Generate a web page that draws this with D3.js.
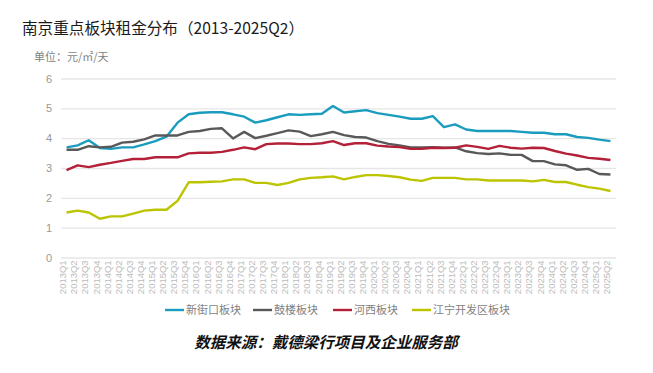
<!DOCTYPE html>
<html>
<head>
<meta charset="utf-8">
<script src="https://cdn.jsdelivr.net/npm/d3@7"></script>
<style>
  body { margin: 0; background: #fff; }
  svg { font-family: "Noto Sans CJK SC", "Noto Sans", sans-serif; }
</style>
</head>
<body>
<div id="chart"></div>
<script>
// quarters 2013Q1 .. 2025Q2
const years = d3.range(2013, 2026);
const quarters = years.flatMap(y => [1, 2, 3, 4].map(q => y + "Q" + q)).slice(0, 50);

const xinjiekou = [3.69, 3.76, 3.93, 3.67, 3.64, 3.69, 3.69, 3.79, 3.9, 4.05,
  4.52, 4.8, 4.85, 4.87, 4.87, 4.8, 4.72, 4.52, 4.6, 4.7,
  4.8, 4.78, 4.8, 4.82, 5.08, 4.86, 4.9, 4.94, 4.84, 4.78,
  4.72, 4.65, 4.65, 4.74, 4.37, 4.46, 4.29, 4.24, 4.24, 4.24,
  4.24, 4.21, 4.18, 4.18, 4.13, 4.13, 4.04, 4.01, 3.95, 3.9];
const gulou = [3.61, 3.61, 3.73, 3.69, 3.71, 3.85, 3.88, 3.96, 4.09, 4.09,
  4.09, 4.21, 4.24, 4.31, 4.33, 3.99, 4.21, 4.0, 4.08, 4.17,
  4.26, 4.22, 4.07, 4.13, 4.21, 4.1, 4.04, 4.02, 3.9, 3.81,
  3.76, 3.69, 3.69, 3.7, 3.68, 3.69, 3.56, 3.5, 3.47, 3.49,
  3.44, 3.44, 3.23, 3.23, 3.12, 3.09, 2.94, 2.97, 2.8, 2.78];
const hexi = [2.93, 3.09, 3.03, 3.11, 3.17, 3.24, 3.3, 3.3, 3.36, 3.36,
  3.36, 3.49, 3.51, 3.51, 3.54, 3.61, 3.69, 3.63, 3.8, 3.82,
  3.82, 3.8, 3.8, 3.83, 3.9, 3.77, 3.83, 3.83, 3.75, 3.72,
  3.7, 3.64, 3.64, 3.68, 3.67, 3.68, 3.76, 3.71, 3.64, 3.74,
  3.68, 3.65, 3.68, 3.67, 3.57, 3.48, 3.42, 3.34, 3.31, 3.27];
const jiangning = [1.51, 1.57, 1.51, 1.3, 1.38, 1.38, 1.47, 1.57, 1.6, 1.6,
  1.9, 2.52, 2.52, 2.54, 2.55, 2.62, 2.62, 2.5, 2.5, 2.43,
  2.5, 2.62, 2.67, 2.69, 2.72, 2.62, 2.7, 2.76, 2.76, 2.73,
  2.69, 2.61, 2.57, 2.67, 2.67, 2.67, 2.62, 2.62, 2.58, 2.58,
  2.58, 2.58, 2.55, 2.6, 2.53, 2.53, 2.44, 2.36, 2.31, 2.23];

const seriesNames = ["新街口板块", "鼓楼板块", "河西板块", "江宁开发区板块"];
const seriesColors = ["#1a9cbf", "#595959", "#b32038", "#bcc400"];
const seriesValues = [xinjiekou, gulou, hexi, jiangning];
const yTicks = [0, 1, 2, 3, 4, 5, 6];

const W = 653, H = 373;
const margin = {top: 78.5, right: 37, bottom: 115.5, left: 61};
const width = W - margin.left - margin.right,
      height = H - margin.top - margin.bottom;

const svg = d3.select("#chart").append("svg")
  .attr("width", W).attr("height", H);

// title + unit
svg.append("text").attr("x", 22).attr("y", 34)
  .attr("font-size", 15.6).attr("fill", "#1a1a1a")
  .text("南京重点板块租金分布（2013-2025Q2）");
svg.append("text").attr("x", 34).attr("y", 61)
  .attr("font-size", 11).attr("fill", "#7f7f7f")
  .text("单位：元/㎡/天");

const g = svg.append("g").attr("transform", `translate(${margin.left},${margin.top})`);

const x = d3.scaleBand().domain(quarters).range([0, width]);
const y = d3.scaleLinear().domain([0, 6]).range([height, 0]);

// grid
g.append("g")
  .call(d3.axisLeft(y).tickValues(yTicks).tickFormat(d3.format("d")).tickSize(-width).tickPadding(9))
  .call(a => a.select(".domain").remove())
  .call(a => a.selectAll("line").attr("stroke", "#e6e6e6").attr("stroke-width", 1.3))
  .call(a => a.selectAll("text").attr("fill", "#999").attr("font-size", 11)
    .attr("font-family", "'Liberation Sans', Arial, sans-serif"));

// x axis labels rotated
g.append("g").attr("transform", `translate(0,${height})`)
  .call(d3.axisBottom(x).tickSize(0).tickPadding(4))
  .call(a => a.select(".domain").remove())
  .selectAll("text")
  .attr("font-size", 9.5).attr("fill", "#bbb")
  .attr("font-family", "'Liberation Sans', Arial, sans-serif")
  .attr("transform", "rotate(-90)")
  .attr("text-anchor", "end")
  .attr("dx", "-0.3em").attr("dy", "-0.45em");

const line = d3.line()
  .x((d, i) => x(quarters[i]) + x.bandwidth() / 2)
  .y(d => y(d));

seriesValues.forEach((vals, k) => {
  g.append("path").datum(vals)
    .attr("fill", "none")
    .attr("stroke", seriesColors[k])
    .attr("stroke-width", 2.4)
    .attr("stroke-linejoin", "round")
    .attr("d", line);
});

// legend
const legendX = [165, 253, 333, 412];
const leg = svg.append("g").attr("transform", "translate(0,310)");
seriesNames.forEach((name, k) => {
  leg.append("line").attr("x1", legendX[k]).attr("x2", legendX[k] + 19)
    .attr("y1", 0).attr("y2", 0)
    .attr("stroke", seriesColors[k]).attr("stroke-width", 2.4);
  leg.append("text").attr("x", legendX[k] + 21).attr("y", 4)
    .attr("font-size", 11).attr("fill", "#7f7f7f").text(name);
});

// source
svg.append("text").attr("x", 326).attr("y", 348)
  .attr("text-anchor", "middle")
  .attr("font-size", 15.5).attr("font-style", "italic").attr("font-weight", "bold")
  .attr("fill", "#111")
  .text("数据来源：戴德梁行项目及企业服务部");
</script>
</body>
</html>
